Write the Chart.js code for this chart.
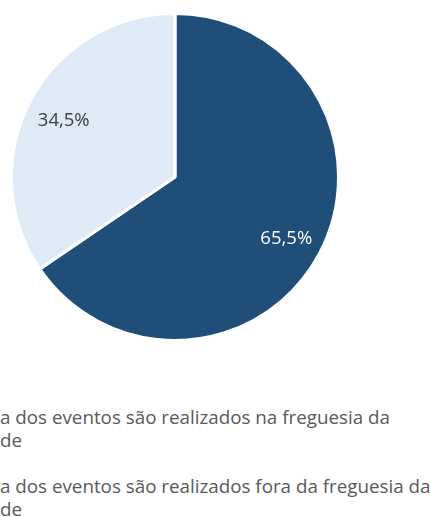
<!DOCTYPE html>
<html>
<head>
<meta charset="utf-8">
<script src="https://cdn.jsdelivr.net/npm/chart.js@4"></script>
<style>
    html, body { margin: 0; padding: 0; background: #ffffff; }
    body { width: 430px; height: 517px; overflow: hidden; position: relative; font-family: 'Open Sans', sans-serif; }
    #wrap { position: absolute; left: 0; top: 0; width: 350px; height: 354px; }
    #legend { position: absolute; left: 0; top: 406px; width: 430px; color: #595959; font-size: 18.8px; line-height: 23px; }
    #legend .item { white-space: nowrap; }
    #legend .item + .item { margin-top: 23px; }
</style>
</head>
<body>
<div id="wrap"><canvas id="chart1"></canvas></div>
<div id="legend"></div>
<script>
// 데이터
const labels = [
    ['a dos eventos são realizados na freguesia da', 'de'],
    ['a dos eventos são realizados fora da freguesia da', 'de']
];
const values = [65.5, 34.5];
const colors = ['#1f4e79', '#deeaf6'];
const labelColors = ['#ffffff', '#404040'];

// 조각 안에 % 표시
const pctLabels = {
    id: 'pctLabels',
    afterDatasetsDraw(chart){
        const ctx = chart.ctx;
        const meta = chart.getDatasetMeta(0);
        ctx.save();
        ctx.font = '18.5px "Open Sans"';
        ctx.textAlign = 'center';
        ctx.textBaseline = 'middle';
        meta.data.forEach((arc, i) => {
            const p = arc.getProps(['x', 'y', 'startAngle', 'endAngle', 'outerRadius'], true);
            const mid = (p.startAngle + p.endAngle) / 2;
            const r = p.outerRadius * 0.77;
            ctx.fillStyle = labelColors[i];
            ctx.fillText(values[i].toFixed(1).replace('.', ',') + '%', p.x + Math.cos(mid) * r, p.y + Math.sin(mid) * r + 3);
        });
        ctx.restore();
    }
};

Chart.defaults.font.family = 'Open Sans';

const chart1 = new Chart(document.getElementById('chart1').getContext('2d'), {
    type: 'pie',
    data: {
        labels: labels,
        datasets: [{
            data: values,
            backgroundColor: colors,
            borderColor: '#ffffff',
            borderWidth: 3
        }]
    },
    options: {
        responsive: true,
        maintainAspectRatio: false,
        animation: false,
        layout: { padding: { top: 12, bottom: 12, left: 10, right: 10 } },
        plugins: {
            legend: { display: false },
            tooltip: { enabled: false }
        }
    },
    plugins: [pctLabels]
});

// 범례 (html)
const legendBox = document.getElementById('legend');
labels.forEach((lines) => {
    const div = document.createElement('div');
    div.className = 'item';
    div.innerHTML = lines.join('<br>');
    legendBox.appendChild(div);
});
</script>
</body>
</html>
